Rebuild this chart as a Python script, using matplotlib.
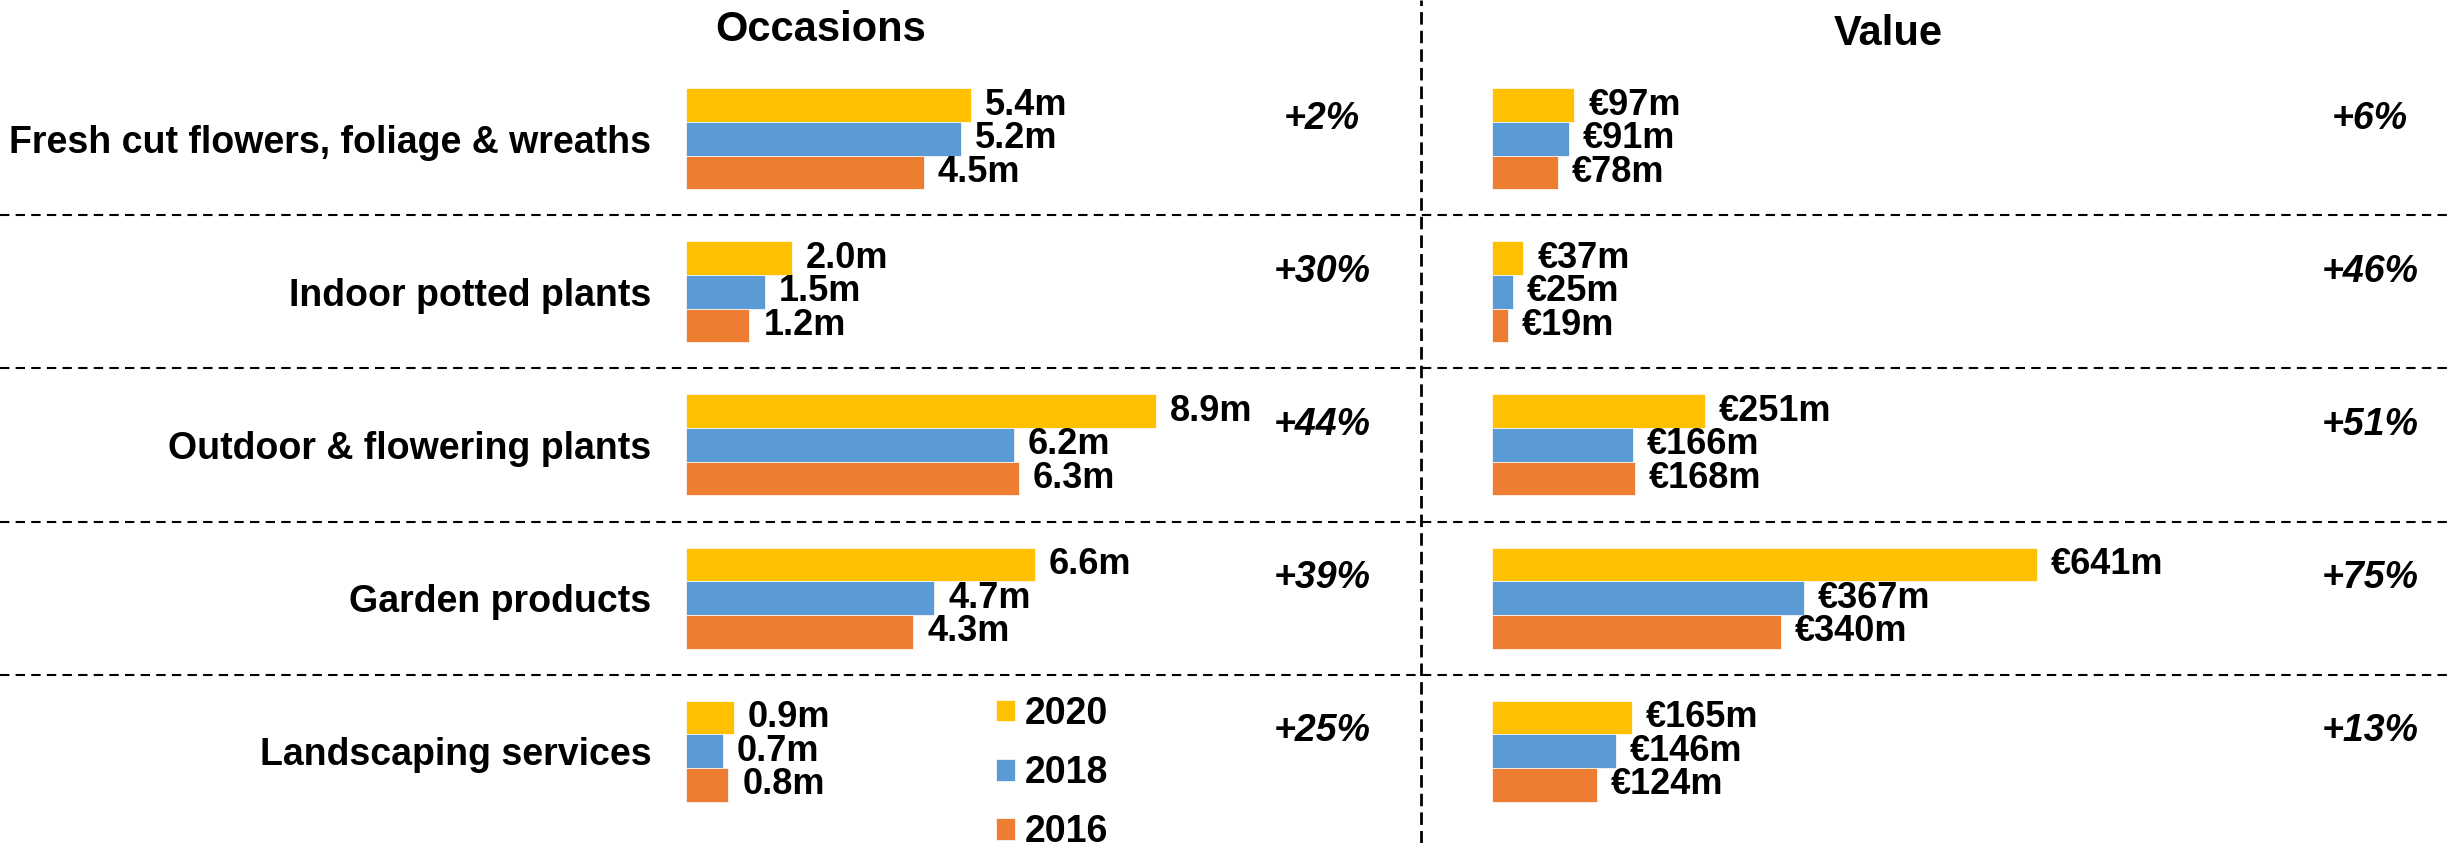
import matplotlib
matplotlib.use("Agg")
import matplotlib.pyplot as plt
import numpy as np

plt.rcParams['font.family'] = ['Liberation Sans', 'DejaVu Sans']
plt.rcParams['font.weight'] = 'bold'

categories = ["Fresh cut flowers, foliage & wreaths", "Indoor potted plants",
              "Outdoor & flowering plants", "Garden products", "Landscaping services"]
years = ["2020", "2018", "2016"]
colors = ["#FFC000", "#5B9BD5", "#ED7D31"]

# occasions (millions)
occ_2020 = [5.4, 2.0, 8.9, 6.6, 0.9]
occ_2018 = [5.2, 1.5, 6.2, 4.7, 0.7]
occ_2016 = [4.5, 1.2, 6.3, 4.3, 0.8]
occ_change = ["+2%", "+30%", "+44%", "+39%", "+25%"]

# value (EUR millions)
val_2020 = [97, 37, 251, 641, 165]
val_2018 = [91, 25, 166, 367, 146]
val_2016 = [78, 19, 168, 340, 124]
val_change = ["+6%", "+46%", "+51%", "+75%", "+13%"]

W, H = 2453, 843
fig = plt.figure(figsize=(W / 100, H / 100), dpi=100)

y = np.arange(len(categories))
ylim = (4.601, -0.908)
bh = 0.22

# background axes for the dashed dividers
ax0 = fig.add_axes([0, 0, 1, 1])
ax0.set_xlim(0, 1)
ax0.set_ylim(*ylim)
ax0.axis("off")
ax0.hlines(y[:-1] + 0.5, 0, 1, colors="black", lw=1.5, linestyles=(0, (4.5, 3)))
ax0.axvline(1421 / W, color="black", lw=2, linestyle=(0, (4.5, 2.2)))

ax1 = fig.add_axes([686 / W, 0, 735 / W, 1])
ax2 = fig.add_axes([1492 / W, 0, 961 / W, 1])
ax1.set_xlim(0, 735 / 52.85)
ax2.set_xlim(0, 961 / 0.85)

def draw(ax, series, fmt, changes, cx):
    handles = []
    for k, (vals, col, yr) in enumerate(zip(series, colors, years)):
        bars = ax.barh(y + (k - 1) * bh, vals, height=bh, color=col,
                       edgecolor="white", linewidth=0.5, label=yr)
        ax.bar_label(bars, labels=[fmt(v) for v in vals], padding=10,
                     fontsize=26, fontweight="bold")
        handles.append(bars)
    tr = ax.get_yaxis_transform()
    for yi, c in zip(y, changes):
        ax.text(cx, yi - 0.13, c, transform=tr, ha="center", va="center",
                fontsize=27, fontweight="bold", style="italic")
    ax.set_ylim(*ylim)
    ax.patch.set_visible(False)
    for s in ax.spines.values():
        s.set_visible(False)
    ax.set_xticks([])
    return handles

h = draw(ax1, [occ_2020, occ_2018, occ_2016], lambda v: f"{v:.1f}m", occ_change, 0.865)
draw(ax2, [val_2020, val_2018, val_2016], lambda v: f"€{v}m", val_change, 0.9136)

ax1.set_yticks(y)
ax1.set_yticklabels(categories, fontsize=27, fontweight="bold")
ax1.tick_params(axis="y", length=0, pad=25)
ax2.set_yticks([])

fig.text(821 / W, 1 - 30 / H, "Occasions", ha="center", va="center", fontsize=30, fontweight="bold")
fig.text(1888 / W, 1 - 34 / H, "Value", ha="center", va="center", fontsize=30, fontweight="bold")

# legend; the last entry runs off the bottom edge as in the source
fig.legend(handles=h, labels=years, loc="upper left",
           bbox_to_anchor=(977 / W, 1 - 677 / H), bbox_transform=fig.transFigure,
           frameon=False, borderpad=0, handlelength=0.51, handleheight=0.51,
           handletextpad=0.27, labelspacing=0.62, prop={"weight": "bold", "size": 27})

fig.savefig("out.png", dpi=100)
